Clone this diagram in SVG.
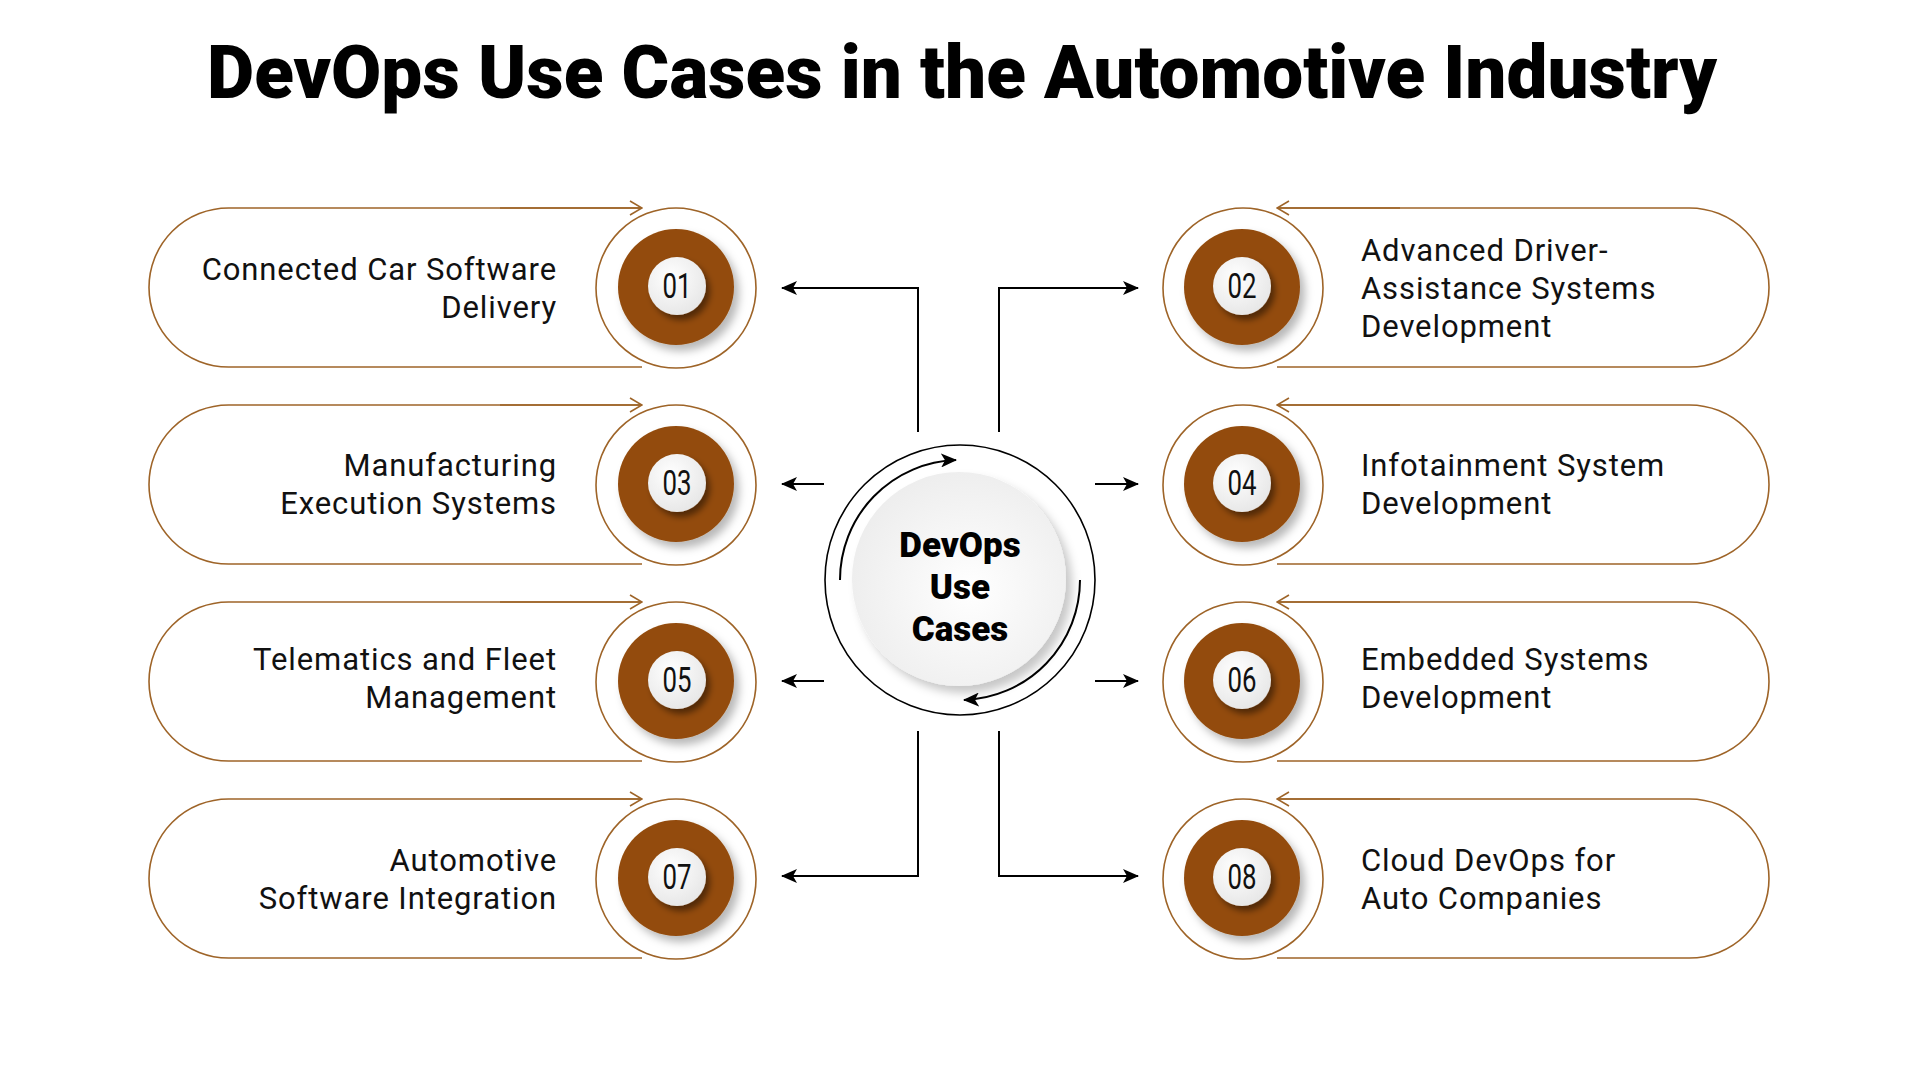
<svg xmlns="http://www.w3.org/2000/svg" width="1920" height="1080" viewBox="0 0 1920 1080">
<style>
.title{font-family:Roboto,"Liberation Sans",sans-serif;font-weight:900;font-size:74px;fill:#000}
.pill{fill:none;stroke:#9E6428;stroke-width:1.6}
.ring{fill:#fff;stroke:#9E6428;stroke-width:1.6}
.brown{fill:#934C0C}
.num{font-family:Roboto,"Liberation Sans",sans-serif;font-size:35px;fill:#111;text-anchor:middle}
.lbl{font-family:Roboto,"Liberation Sans",sans-serif;font-size:31px;fill:#111;letter-spacing:0.9px}
.lt{text-anchor:end}
.conn{fill:none;stroke:#000;stroke-width:2}
.ctr{font-family:Roboto,"Liberation Sans",sans-serif;font-weight:900;font-size:35px;fill:#000;text-anchor:middle}
</style>
<defs>
<marker id="ah" viewBox="0 0 16 14" refX="15" refY="7" markerWidth="16" markerHeight="14" markerUnits="userSpaceOnUse" orient="auto">
<path d="M0,0 L16,7 L0,14 L4,7 Z" fill="#000"/>
</marker>
<marker id="chev" viewBox="0 0 14 16" refX="13" refY="8" markerWidth="14" markerHeight="16" markerUnits="userSpaceOnUse" orient="auto">
<path d="M1,1 L13,8 L1,15" fill="none" stroke="#9E6428" stroke-width="1.6"/>
</marker>
<radialGradient id="wg" cx="40%" cy="35%" r="70%">
<stop offset="0" stop-color="#ffffff"/>
<stop offset="1" stop-color="#e6e6e6"/>
</radialGradient>
<radialGradient id="cg" cx="55%" cy="55%" r="65%">
<stop offset="0" stop-color="#ffffff"/>
<stop offset="1" stop-color="#ebebeb"/>
</radialGradient>
<filter id="sh1" x="-30%" y="-30%" width="160%" height="160%">
<feDropShadow dx="5" dy="6" stdDeviation="4" flood-color="#000" flood-opacity="0.28"/>
</filter>
<filter id="sh2" x="-40%" y="-40%" width="180%" height="180%">
<feDropShadow dx="4" dy="5" stdDeviation="3" flood-color="#000" flood-opacity="0.45"/>
</filter>
<filter id="sh3" x="-30%" y="-30%" width="160%" height="160%">
<feDropShadow dx="6" dy="7" stdDeviation="5" flood-color="#000" flood-opacity="0.22"/>
</filter>
</defs>
<rect width="1920" height="1080" fill="#fff"/>
<text class="title" x="207" y="98" textLength="1510" lengthAdjust="spacingAndGlyphs">DevOps Use Cases in the Automotive Industry</text>

<g id="node-01">
<path class="pill" d="M642,208 L228.5,208 A79.5,79.5 0 0 0 228.5,367 L642,367"/>
<path class="pill" d="M500,208 L642,208" marker-end="url(#chev)"/>
<circle class="ring" cx="676" cy="288" r="80"/>
<circle class="brown" cx="676" cy="287" r="58" filter="url(#sh1)"/>
<circle cx="677" cy="286" r="29" fill="url(#wg)" filter="url(#sh2)"/>
<text class="num" x="677" y="298" textLength="29" lengthAdjust="spacingAndGlyphs">01</text>
<text class="lbl lt" x="557" y="280">Connected Car Software</text>
<text class="lbl lt" x="557" y="318">Delivery</text>
</g>

<g id="node-03">
<path class="pill" d="M642,405 L228.5,405 A79.5,79.5 0 0 0 228.5,564 L642,564"/>
<path class="pill" d="M500,405 L642,405" marker-end="url(#chev)"/>
<circle class="ring" cx="676" cy="485" r="80"/>
<circle class="brown" cx="676" cy="484" r="58" filter="url(#sh1)"/>
<circle cx="677" cy="483" r="29" fill="url(#wg)" filter="url(#sh2)"/>
<text class="num" x="677" y="495" textLength="29" lengthAdjust="spacingAndGlyphs">03</text>
<text class="lbl lt" x="557" y="476">Manufacturing</text>
<text class="lbl lt" x="557" y="514">Execution Systems</text>
</g>

<g id="node-05">
<path class="pill" d="M642,602 L228.5,602 A79.5,79.5 0 0 0 228.5,761 L642,761"/>
<path class="pill" d="M500,602 L642,602" marker-end="url(#chev)"/>
<circle class="ring" cx="676" cy="682" r="80"/>
<circle class="brown" cx="676" cy="681" r="58" filter="url(#sh1)"/>
<circle cx="677" cy="680" r="29" fill="url(#wg)" filter="url(#sh2)"/>
<text class="num" x="677" y="692" textLength="29" lengthAdjust="spacingAndGlyphs">05</text>
<text class="lbl lt" x="557" y="670">Telematics and Fleet</text>
<text class="lbl lt" x="557" y="708">Management</text>
</g>

<g id="node-07">
<path class="pill" d="M642,799 L228.5,799 A79.5,79.5 0 0 0 228.5,958 L642,958"/>
<path class="pill" d="M500,799 L642,799" marker-end="url(#chev)"/>
<circle class="ring" cx="676" cy="879" r="80"/>
<circle class="brown" cx="676" cy="878" r="58" filter="url(#sh1)"/>
<circle cx="677" cy="877" r="29" fill="url(#wg)" filter="url(#sh2)"/>
<text class="num" x="677" y="889" textLength="29" lengthAdjust="spacingAndGlyphs">07</text>
<text class="lbl lt" x="557" y="871">Automotive</text>
<text class="lbl lt" x="557" y="909">Software Integration</text>
</g>

<g id="node-02">
<path class="pill" d="M1277,367 L1689.5,367 A79.5,79.5 0 0 0 1689.5,208 L1277,208"/>
<path class="pill" d="M1400,208 L1277,208" marker-end="url(#chev)"/>
<circle class="ring" cx="1243" cy="288" r="80"/>
<circle class="brown" cx="1242" cy="287" r="58" filter="url(#sh1)"/>
<circle cx="1242" cy="286" r="29" fill="url(#wg)" filter="url(#sh2)"/>
<text class="num" x="1242" y="298" textLength="29" lengthAdjust="spacingAndGlyphs">02</text>
<text class="lbl" x="1361" y="261">Advanced Driver-</text>
<text class="lbl" x="1361" y="299">Assistance Systems</text>
<text class="lbl" x="1361" y="337">Development</text>
</g>

<g id="node-04">
<path class="pill" d="M1277,564 L1689.5,564 A79.5,79.5 0 0 0 1689.5,405 L1277,405"/>
<path class="pill" d="M1400,405 L1277,405" marker-end="url(#chev)"/>
<circle class="ring" cx="1243" cy="485" r="80"/>
<circle class="brown" cx="1242" cy="484" r="58" filter="url(#sh1)"/>
<circle cx="1242" cy="483" r="29" fill="url(#wg)" filter="url(#sh2)"/>
<text class="num" x="1242" y="495" textLength="29" lengthAdjust="spacingAndGlyphs">04</text>
<text class="lbl" x="1361" y="476">Infotainment System</text>
<text class="lbl" x="1361" y="514">Development</text>
</g>

<g id="node-06">
<path class="pill" d="M1277,761 L1689.5,761 A79.5,79.5 0 0 0 1689.5,602 L1277,602"/>
<path class="pill" d="M1400,602 L1277,602" marker-end="url(#chev)"/>
<circle class="ring" cx="1243" cy="682" r="80"/>
<circle class="brown" cx="1242" cy="681" r="58" filter="url(#sh1)"/>
<circle cx="1242" cy="680" r="29" fill="url(#wg)" filter="url(#sh2)"/>
<text class="num" x="1242" y="692" textLength="29" lengthAdjust="spacingAndGlyphs">06</text>
<text class="lbl" x="1361" y="670">Embedded Systems</text>
<text class="lbl" x="1361" y="708">Development</text>
</g>

<g id="node-08">
<path class="pill" d="M1277,958 L1689.5,958 A79.5,79.5 0 0 0 1689.5,799 L1277,799"/>
<path class="pill" d="M1400,799 L1277,799" marker-end="url(#chev)"/>
<circle class="ring" cx="1243" cy="879" r="80"/>
<circle class="brown" cx="1242" cy="878" r="58" filter="url(#sh1)"/>
<circle cx="1242" cy="877" r="29" fill="url(#wg)" filter="url(#sh2)"/>
<text class="num" x="1242" y="889" textLength="29" lengthAdjust="spacingAndGlyphs">08</text>
<text class="lbl" x="1361" y="871">Cloud DevOps for</text>
<text class="lbl" x="1361" y="909">Auto Companies</text>
</g>

<g id="center">
<circle cx="960" cy="580" r="135" fill="#fff" stroke="#000" stroke-width="1.6"/>
<circle cx="959" cy="579" r="107" fill="url(#cg)" filter="url(#sh3)"/>
<path class="conn" d="M840,580 A120,120 0 0 1 956,460" marker-end="url(#ah)"/>
<path class="conn" d="M1080,580 A120,120 0 0 1 964,700" marker-end="url(#ah)"/>
<text class="ctr" x="960" y="557">DevOps</text>
<text class="ctr" x="960" y="599">Use</text>
<text class="ctr" x="960" y="641">Cases</text>
</g>

<g id="connectors">
<path class="conn" d="M918,432 L918,288 L782,288" marker-end="url(#ah)"/>
<path class="conn" d="M999,432 L999,288 L1138,288" marker-end="url(#ah)"/>
<path class="conn" d="M824,484 L782,484" marker-end="url(#ah)"/>
<path class="conn" d="M824,681 L782,681" marker-end="url(#ah)"/>
<path class="conn" d="M1095,484 L1138,484" marker-end="url(#ah)"/>
<path class="conn" d="M1095,681 L1138,681" marker-end="url(#ah)"/>
<path class="conn" d="M918,731 L918,876 L782,876" marker-end="url(#ah)"/>
<path class="conn" d="M999,731 L999,876 L1138,876" marker-end="url(#ah)"/>
</g>
</svg>
